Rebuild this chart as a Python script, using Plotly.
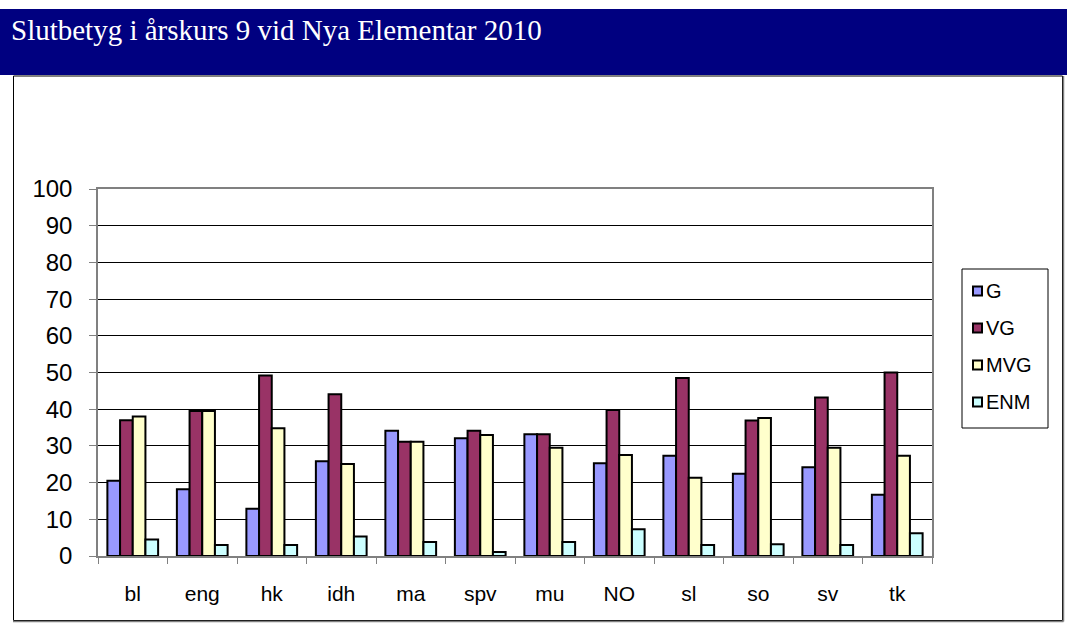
import plotly.graph_objects as go

categories = ["bl", "eng", "hk", "idh", "ma", "spv", "mu", "NO", "sl", "so", "sv", "tk"]
g_values = [20.5, 18.2, 12.9, 25.8, 34.1, 32.1, 33.2, 25.3, 27.3, 22.4, 24.2, 16.7]
vg_values = [37.0, 39.5, 49.2, 44.1, 31.1, 34.1, 33.2, 39.8, 48.5, 36.9, 43.2, 50.0]
mvg_values = [38.0, 39.5, 34.8, 25.1, 31.1, 33.0, 29.5, 27.5, 21.3, 37.6, 29.5, 27.3]
enm_values = [4.5, 3.0, 3.0, 5.3, 3.8, 1.1, 3.8, 7.3, 3.0, 3.2, 3.0, 6.2]
series_names = ["G", "VG", "MVG", "ENM"]
series_colors = ["#9999FF", "#993366", "#FFFFCC", "#CCFFFF"]
y_ticks = [0, 10, 20, 30, 40, 50, 60, 70, 80, 90, 100]
title_text = "Slutbetyg i årskurs 9 vid Nya Elementar 2010"

W, H = 1067, 630
PL, PR, PT, PB = 98, 932, 189, 556  # plot area in pixels


def px(x):
    return (x - PL) / (PR - PL)


def py(y):
    return (PB - y) / (PB - PT)


fig = go.Figure()
for name, vals, col in zip(series_names, [g_values, vg_values, mvg_values, enm_values], series_colors):
    fig.add_trace(go.Bar(
        x=categories, y=vals, name=name,
        marker=dict(color=col, line=dict(color="#000000", width=2)),
    ))

shapes = [
    # header band
    dict(type="rect", xref="paper", yref="paper", x0=px(0), x1=px(W), y0=py(75), y1=py(9),
         fillcolor="#000080", line=dict(width=0), layer="below"),
    # outer frame
    dict(type="rect", xref="paper", yref="paper", x0=px(13.5), x1=px(1062.5), y0=py(620.5), y1=py(76),
         fillcolor="rgba(0,0,0,0)", line=dict(color="#000000", width=1), layer="below"),
    dict(type="line", xref="paper", yref="paper", x0=px(1063.5), x1=px(1063.5), y0=py(621.5), y1=py(76),
         line=dict(color="#808080", width=1.5)),
    dict(type="line", xref="paper", yref="paper", x0=px(13), x1=px(1063.5), y0=py(621.5), y1=py(621.5),
         line=dict(color="#808080", width=1.5)),
    # legend box
    dict(type="rect", xref="paper", yref="paper", x0=px(962), x1=px(1048), y0=py(428), y1=py(269),
         fillcolor="#FFFFFF", line=dict(color="#000000", width=1)),
]

annotations = [
    dict(text=title_text, xref="paper", yref="paper", x=px(9), y=py(30),
         xanchor="left", yanchor="middle", showarrow=False,
         font=dict(family="Liberation Serif, Times New Roman", size=29, color="#FFFFFF")),
]

legend_y = [291, 328, 365, 402]
for name, col, ly in zip(series_names, series_colors, legend_y):
    shapes.append(dict(type="rect", xref="paper", yref="paper",
                       x0=px(973), x1=px(982), y0=py(ly + 4.5), y1=py(ly - 4.5),
                       fillcolor=col, line=dict(color="#000000", width=2)))
    annotations.append(dict(text=name, xref="paper", yref="paper", x=px(984), y=py(ly),
                            xanchor="left", yanchor="middle", showarrow=False,
                            font=dict(family="Liberation Sans, Arial", size=20, color="#000000")))

fig.update_layout(
    width=W, height=H,
    margin=dict(l=PL, r=W - PR, t=PT, b=H - PB),
    paper_bgcolor="#FFFFFF", plot_bgcolor="#FFFFFF",
    barmode="group", bargap=0.27, bargroupgap=0,
    shapes=shapes,
    annotations=annotations,
    font=dict(family="Liberation Sans, Arial", size=21, color="#000000"),
    showlegend=False,
)
fig.update_yaxes(
    range=[0, 100], tickvals=y_ticks, ticktext=[str(v) for v in y_ticks],
    tickfont=dict(size=24),
    showgrid=True, gridcolor="#000000", gridwidth=1,
    showline=True, linecolor="#808080", linewidth=1.5, mirror=True,
    ticks="outside", ticklen=7, tickcolor="#808080", ticklabelstandoff=12,
    zeroline=False,
)
fig.update_xaxes(
    tickfont=dict(size=21),
    showline=True, linecolor="#808080", linewidth=1.5, mirror=True,
    ticks="outside", ticklen=6, tickcolor="#808080", tickson="boundaries",
    ticklabelstandoff=18, showgrid=False,
)

fig.write_html("out.html", config={"displayModeBar": False},
               post_script="document.body.style.margin='0';document.body.style.overflow='hidden';")
